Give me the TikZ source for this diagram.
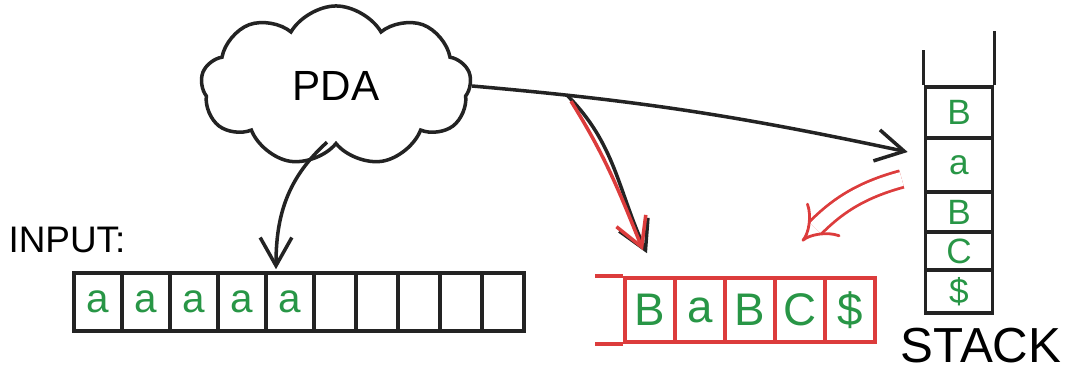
\documentclass[tikz,border=0pt]{standalone}
\usepackage{fontspec}
\setmainfont{Liberation Sans}
\usetikzlibrary{shapes.symbols, arrows.meta}
\definecolor{ink}{RGB}{35,35,35}
\definecolor{inkgreen}{RGB}{40,150,70}
\definecolor{penred}{RGB}{220,60,60}

\begin{document}
\begin{tikzpicture}[
			x=0.01cm, y=0.01cm,
			cloudbox/.style={
				cloud,
				cloud puffs=9,
				cloud puff arc=120,
				aspect=1.7,
				draw=ink,
				line width=1pt,
				minimum width=2.7cm,
				minimum height=1.6cm,
				font=\fontsize{12}{13}\selectfont
			},
			cell/.style={
				rectangle,
				draw=ink,
				line width=1pt,
				inner sep=0pt,
				minimum height=0.58cm,
				text=inkgreen,
				font=\fontsize{11.5}{12}\selectfont
			},
			widecell/.style={cell, minimum width=0.48cm},
			narrowcell/.style={cell, minimum width=0.42cm},
			stackcell/.style={
				rectangle,
				draw=ink,
				line width=1pt,
				inner sep=0pt,
				minimum width=0.67cm,
				text=inkgreen,
				font=\fontsize{10}{11}\selectfont
			},
			outcell/.style={
				rectangle,
				draw=penred,
				line width=1pt,
				inner sep=0pt,
				minimum width=0.5cm,
				minimum height=0.64cm,
				text=inkgreen,
				font=\fontsize{13}{14}\selectfont
			},
			arrow/.style={
				-{Straight Barb[length=8pt,width=9pt]},
				draw=ink,
				line width=1pt
			},
			redarrow/.style={arrow, draw=penred}
			]
			
			\useasboundingbox (0,0) rectangle (1066,372);
			
			\node (pda) [cloudbox] at (336,286) {PDA};
			\node (inlabel) at (67,132) {\fontsize{10.5}{12}\selectfont INPUT:};
			
			\node (in1) [widecell] at (98,70) {a};
			\node (in2) [widecell] at (146,70) {a};
			\node (in3) [widecell] at (194,70) {a};
			\node (in4) [widecell] at (242,70) {a};
			\node (in5) [widecell] at (290,70) {a};
			\node (in6) [narrowcell] at (335,70) {};
			\node (in7) [narrowcell] at (377,70) {};
			\node (in8) [narrowcell] at (419,70) {};
			\node (in9) [narrowcell] at (461,70) {};
			\node (in10) [narrowcell] at (503,70) {};
			
			\node (st1) [stackcell, minimum height=0.51cm] at (959,259.5) {B};
			\node (st2) [stackcell, minimum height=0.54cm] at (959,207) {a};
			\node (st3) [stackcell, minimum height=0.40cm] at (959,160) {B};
			\node (st4) [stackcell, minimum height=0.38cm] at (959,121) {C};
			\node (st5) [stackcell, minimum height=0.43cm] at (959,80.5) {\$};
			\node (stlabel) at (981,26) {\fontsize{14}{15}\selectfont STACK};
			
			\draw [ink, line width=1pt] (st1.north west) -- ++(0,35);
			\draw [ink, line width=1pt] (st1.north east) -- ++(0,54);
			
			\node (out1) [outcell] at (650,62) {B};
			\node (out2) [outcell] at (700,62) {a};
			\node (out3) [outcell] at (750,62) {B};
			\node (out4) [outcell] at (800,62) {C};
			\node (out5) [outcell] at (850,62) {\$};
			
			\draw [penred, line width=1pt] (out1.north west) -- ++(-28,0);
			\draw [penred, line width=1pt] (out1.south west) -- ++(-28,0);
			
			\draw [arrow] ([shift={(-9,4)}]pda.south) to[out=222,in=90] ([shift={(-14,2)}]in5.north);
			\draw [arrow] (pda.east) to[out=-5,in=168] coordinate[pos=0.2] (fork) ([shift={(-16,13)}]st2.west);
			\draw [arrow] (fork) to[out=-45,in=115] ([shift={(-3,23)}]out1.north);
			\draw [redarrow] ([shift={(4,-6)}]fork) to[out=-58,in=112] ([shift={(-7,26)}]out1.north);
			\draw [penred, line width=0.8pt, double=white, double distance=4pt, -{Implies[scale=1.3]}] ([shift={(-22,-14)}]st2.west) to[out=195,in=45] ([shift={(2,35)}]out4.north);
			
		\end{tikzpicture}
\end{document}
